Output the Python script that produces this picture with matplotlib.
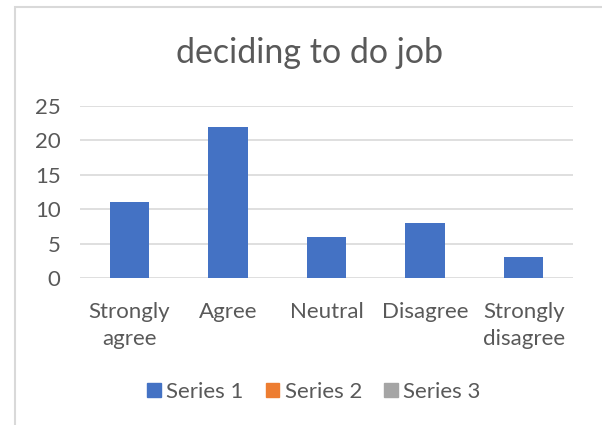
import matplotlib.pyplot as plt
from matplotlib.patches import Patch, Rectangle

categories = ["Strongly\nagree", "Agree", "Neutral", "Disagree", "Strongly\ndisagree"]
series1 = [11, 22, 6, 8, 3]
legend_labels = ["Series 1", "Series 2", "Series 3"]
legend_colors = ["#4472C4", "#ED7D31", "#A5A5A5"]
yticks = [0, 5, 10, 15, 20, 25]

plt.rcParams["font.family"] = ["Lato", "DejaVu Sans"]
text_color = "#595959"

fig = plt.figure(figsize=(6.02, 4.25), dpi=100)
fig.patches.append(Rectangle((15 / 602, -0.1), 2, 1.1 - 7 / 425, transform=fig.transFigure,
                             fill=False, edgecolor="#D9D9D9", lw=1.5))

ax = fig.add_axes([80 / 602, 1 - 278 / 425, 493 / 602, 172 / 425])
x = list(range(len(categories)))
ax.bar(x, series1, width=0.4, color=legend_colors[0], zorder=3)
ax.set_xlim(-0.5, len(categories) - 0.5)
ax.set_ylim(0, 25)
ax.set_yticks(yticks)
ax.set_xticks(x)
ax.set_xticklabels(categories, fontsize=16, color=text_color, linespacing=1.45)
ax.tick_params(axis="y", labelsize=16, labelcolor=text_color, length=0, pad=14)
ax.tick_params(axis="x", length=0, pad=17)
ax.grid(axis="y", color="#D9D9D9", lw=1.2, zorder=0)
for s in ax.spines.values():
    s.set_visible(False)

fig.text(0.5 + 8 / 602, 1 - 53 / 425, "deciding to do job", ha="center", va="center",
         fontsize=24.5, color=text_color)

handles = [Patch(color=c) for c in legend_colors]
fig.legend(handles, legend_labels, loc="center", bbox_to_anchor=(0.5 + 13 / 602, 1 - 392 / 425),
           ncol=3, frameon=False, fontsize=16, labelcolor=text_color,
           handlelength=0.6, handleheight=0.6, handletextpad=0.25, columnspacing=1.0)

fig.savefig("out.png", dpi=100)
